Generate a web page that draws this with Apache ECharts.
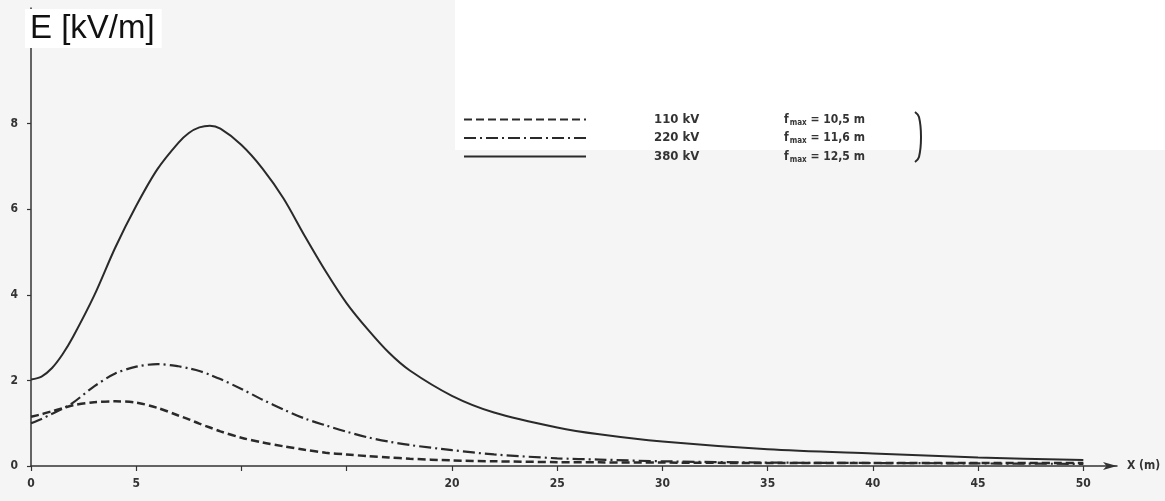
<!DOCTYPE html>
<html>
<head>
<meta charset="utf-8">
<script src="https://cdn.jsdelivr.net/npm/echarts@6/dist/echarts.min.js"></script>
<style>
  html, body { margin: 0; padding: 0; background: #f5f5f5; }
  #main { width: 1165px; height: 501px; }
</style>
</head>
<body>
<div id="main"></div>
<script>
// distance from the line axis, m
var xs = [0, 0.5, 1, 1.5, 2, 3, 4, 5, 6, 7, 7.5, 8, 8.5, 9, 10, 11, 12, 13, 14, 15, 16, 17, 18, 20, 22, 25, 27, 30, 35, 40, 45, 50];

// field strength E [kV/m]
var e110 = [1.15, 1.21, 1.28, 1.35, 1.42, 1.49, 1.51, 1.48, 1.36, 1.18, 1.09, 0.99, 0.90, 0.81, 0.66, 0.55, 0.46, 0.38, 0.31, 0.27, 0.23, 0.20, 0.17, 0.13, 0.11, 0.09, 0.085, 0.08, 0.07, 0.07, 0.07, 0.07];
var e220 = [1.00, 1.10, 1.22, 1.34, 1.48, 1.86, 2.16, 2.32, 2.38, 2.33, 2.28, 2.22, 2.13, 2.03, 1.80, 1.55, 1.32, 1.11, 0.95, 0.80, 0.67, 0.57, 0.49, 0.37, 0.27, 0.18, 0.15, 0.11, 0.08, 0.07, 0.06, 0.05];
var e380 = [2.02, 2.09, 2.29, 2.61, 3.02, 3.98, 5.10, 6.08, 6.93, 7.55, 7.78, 7.91, 7.95, 7.88, 7.50, 6.95, 6.25, 5.38, 4.55, 3.80, 3.19, 2.65, 2.23, 1.64, 1.25, 0.90, 0.74, 0.57, 0.39, 0.29, 0.20, 0.14];

var names = ['110 kV', '220 kV', '380 kV'];
var fmax = ['10,5', '11,6', '12,5'];

var xTicks = [0, 5, 10, 15, 20, 25, 30, 35, 40, 45, 50];
var xLabels = [0, 5, 20, 25, 30, 35, 40, 45, 50];
var yTicks = [0, 2, 4, 6, 8];

function pairs(ys) {
  return xs.map(function (x, i) { return [x, ys[i]]; });
}

var ink = '#2a2a2a';
var labelFont = { color: '#333', fontSize: 12, fontWeight: 'bold', fontFamily: 'DejaVu Sans Condensed' };
var legendFont = { color: '#333', fontWeight: 'bold', fontFamily: 'DejaVu Sans Condensed' };

var chart = echarts.init(document.getElementById('main'));

chart.setOption({
  backgroundColor: '#f5f5f5',
  animation: false,
  title: {
    text: 'E [kV/m]',
    left: 25,
    top: 9,
    padding: [3, 7, 3, 5],
    backgroundColor: '#ffffff',
    textStyle: { fontFamily: 'Liberation Sans', fontSize: 33, fontWeight: 'normal', color: '#111' }
  },
  graphic: [
    { type: 'rect', z: -10, silent: true, shape: { x: 455, y: 0, width: 710, height: 150 }, style: { fill: '#ffffff' } },
    { type: 'polyline', silent: true, shape: { points: [[915, 112], [919, 117], [921, 137], [919, 157], [915, 162]], smooth: 0.4 }, style: { stroke: ink, lineWidth: 2, fill: null } }
  ],
  legend: {
    orient: 'vertical',
    left: 458,
    top: 108,
    itemWidth: 122,
    itemHeight: 12,
    itemGap: 5,
    data: names,
    itemStyle: { opacity: 0 },
    formatter: function (name) {
      var i = names.indexOf(name);
      return '{g|}{v|' + name + '}{f|f}{s|max}{e| = ' + fmax[i] + ' m}';
    },
    textStyle: Object.assign({
      fontSize: 13,
      rich: {
        g: { width: 63 },
        v: Object.assign({ width: 130, fontSize: 13 }, legendFont),
        f: Object.assign({ fontSize: 12 }, legendFont),
        s: Object.assign({ fontSize: 8, padding: [6, 0, 0, 1] }, legendFont),
        e: Object.assign({ fontSize: 12 }, legendFont)
      }
    }, legendFont)
  },
  grid: { left: 31, right: 48, top: 8, bottom: 35 },
  xAxis: {
    type: 'value',
    min: 0,
    max: 51.6,
    name: 'X (m)',
    nameLocation: 'end',
    nameGap: 10,
    nameTextStyle: labelFont,
    splitLine: { show: false },
    axisLine: { show: true, symbol: ['none', 'arrow'], symbolSize: [6, 14], lineStyle: { color: '#333', width: 1.5 } },
    axisTick: { show: true, length: 5, customValues: xTicks, lineStyle: { color: '#333', width: 1.2 } },
    axisLabel: Object.assign({ margin: 12, customValues: xLabels }, labelFont)
  },
  yAxis: {
    type: 'value',
    min: 0,
    max: 10.7,
    splitLine: { show: false },
    axisLine: { show: true, lineStyle: { color: '#333', width: 1.5 } },
    axisTick: { show: true, length: 4, customValues: yTicks, lineStyle: { color: '#333', width: 1.2 } },
    axisLabel: Object.assign({ margin: 13, customValues: yTicks }, labelFont)
  },
  series: [
    {
      name: names[0], type: 'line', smooth: 0.3, symbol: 'none',
      lineStyle: { color: ink, width: 2.5, type: [8, 4] },
      itemStyle: { color: ink },
      data: pairs(e110)
    },
    {
      name: names[1], type: 'line', smooth: 0.3, symbol: 'none',
      lineStyle: { color: ink, width: 2.2, type: [12, 4, 2, 4] },
      itemStyle: { color: ink },
      data: pairs(e220)
    },
    {
      name: names[2], type: 'line', smooth: 0.3, symbol: 'none',
      lineStyle: { color: ink, width: 2 },
      itemStyle: { color: ink },
      data: pairs(e380)
    }
  ]
});
</script>
</body>
</html>
